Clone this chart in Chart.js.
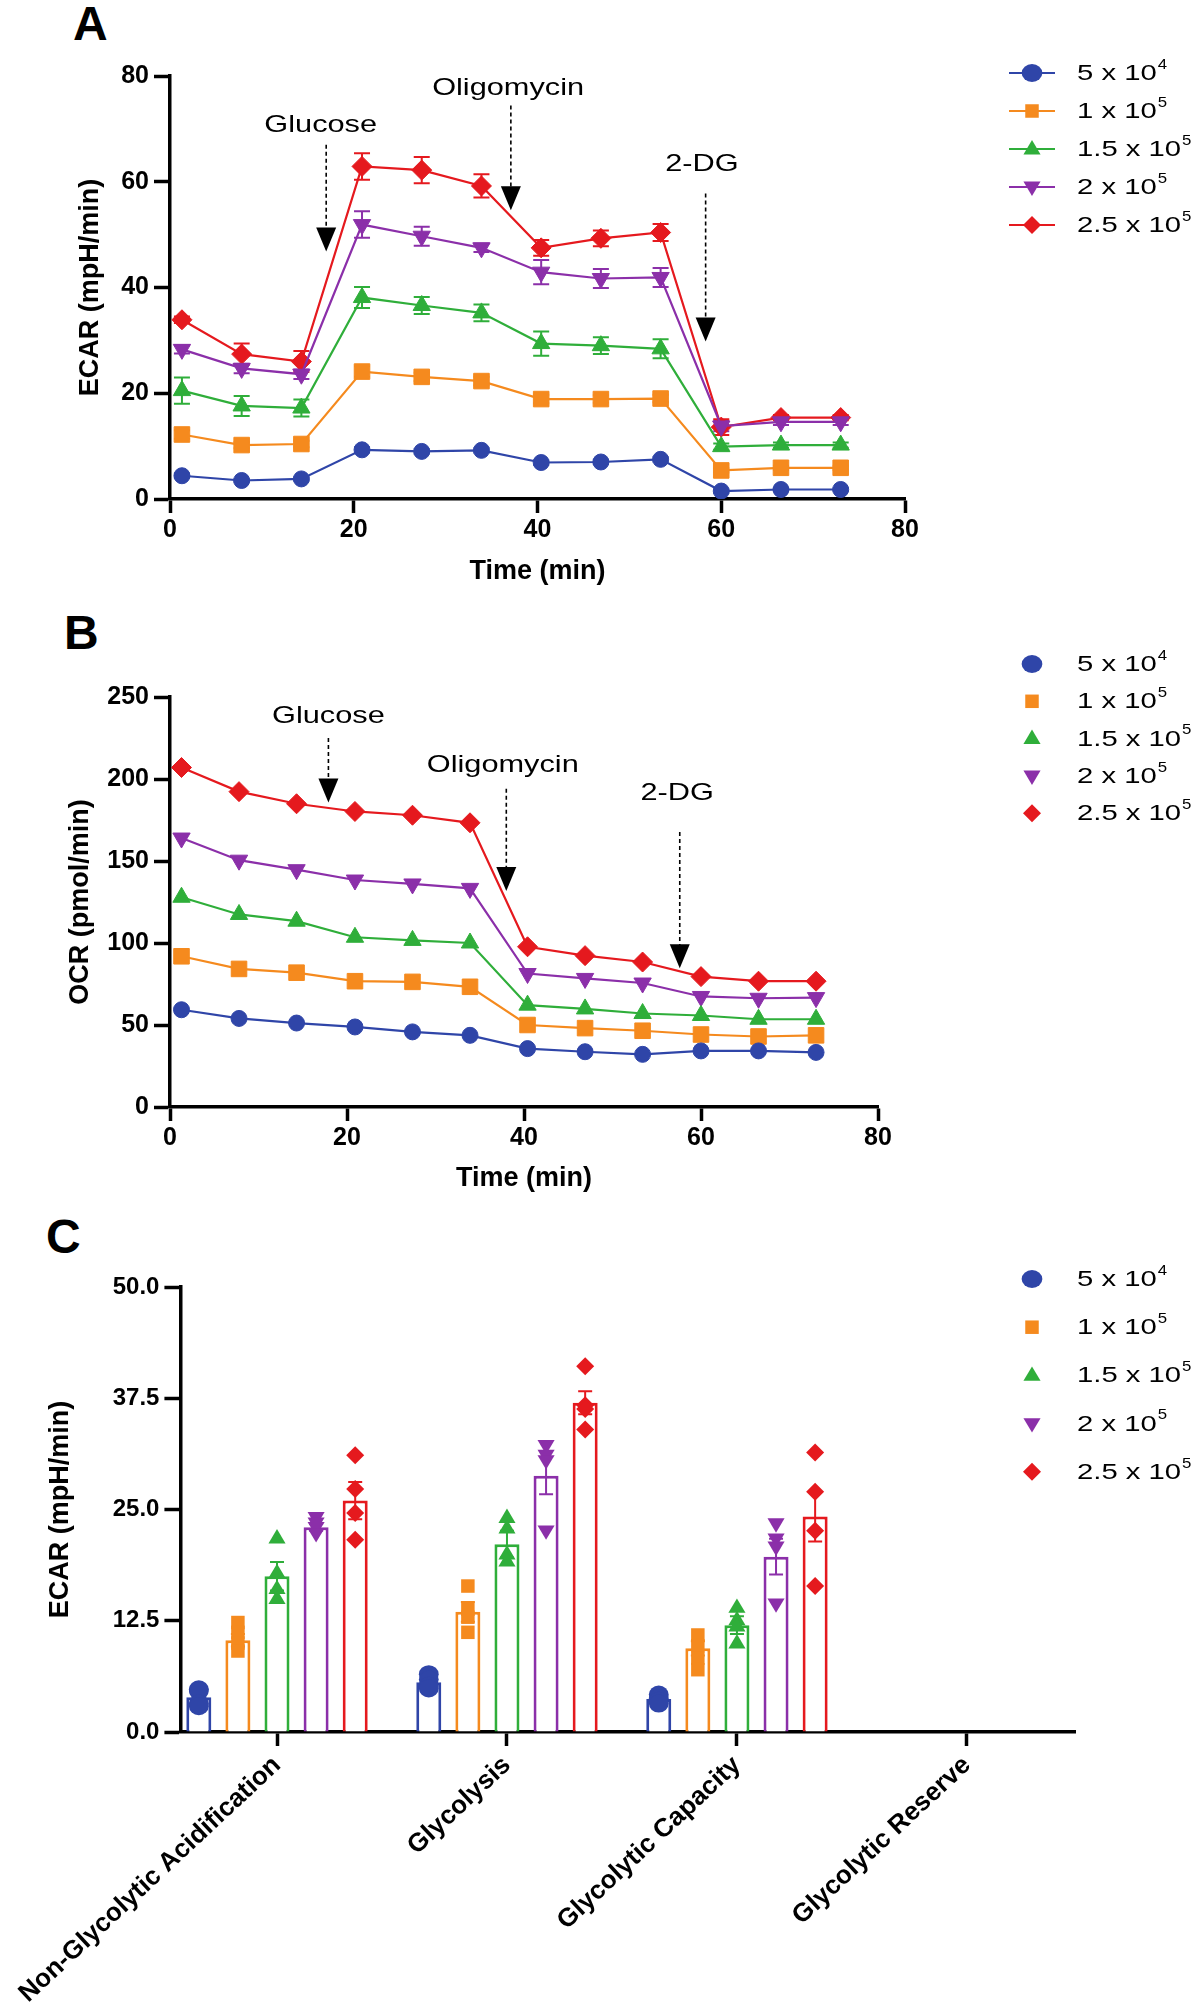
<!DOCTYPE html>
<html>
<head>
<meta charset="utf-8">
<script src="https://cdn.jsdelivr.net/npm/chart.js@4.4.1/dist/chart.umd.min.js"></script>
<style>
  body { margin: 0; background: #fff; width: 1200px; height: 2016px; position: relative; overflow: hidden;
         font-family: "Liberation Sans", Arial, sans-serif; }
  canvas { position: absolute; left: 0; }
  .panel { position: absolute; font-weight: bold; font-size: 48px; line-height: 1; color: #000; }
</style>
</head>
<body>
<div class="panel" style="left:73px;top:0px">A</div>
<div class="panel" style="left:64px;top:609px">B</div>
<div class="panel" style="left:46px;top:1213px">C</div>
<canvas id="ecar" width="1200" height="600" style="top:0px"></canvas>
<canvas id="ocr" width="1200" height="600" style="top:620px"></canvas>
<canvas id="glyco" width="1200" height="796" style="top:1220px"></canvas>
<script>
// ---- data ----
const times = [1.3, 7.8, 14.3, 20.9, 27.4, 33.9, 40.4, 46.9, 53.4, 60.0, 66.5, 73.0];

const seriesNames = ["5 x 10", "1 x 10", "1.5 x 10", "2 x 10", "2.5 x 10"];
const seriesExp = ["4", "5", "5", "5", "5"];

// panel A, ECAR (mpH/min)
const ecar5e4  = [4.4, 3.5, 3.8, 9.3, 9.0, 9.2, 6.9, 7.0, 7.5, 1.5, 1.8, 1.8];
const ecar1e5  = [12.2, 10.2, 10.4, 24.1, 23.1, 22.3, 18.9, 18.9, 19.0, 5.4, 5.9, 5.9];
const ecar15e5 = [20.5, 17.6, 17.2, 38.1, 36.6, 35.2, 29.4, 29.0, 28.4, 9.9, 10.2, 10.2];
const ecar2e5  = [28.3, 24.7, 23.6, 51.9, 49.7, 47.5, 42.9, 41.7, 41.9, 13.8, 14.6, 14.6];
const ecar25e5 = [33.9, 27.4, 26.0, 62.9, 62.2, 59.2, 47.5, 49.3, 50.4, 13.6, 15.4, 15.4];

const ecarSem5e4  = [0.4, 0.3, 0.3, 0.5, 0.4, 0.4, 0.4, 0.4, 0.4, 0.3, 0.3, 0.3];
const ecarSem1e5  = [0.8, 0.6, 0.6, 1.0, 0.8, 0.8, 0.8, 0.7, 0.7, 0.4, 0.4, 0.4];
const ecarSem15e5 = [2.5, 1.9, 1.6, 2.0, 1.6, 1.6, 2.3, 1.6, 1.8, 0.6, 0.5, 0.5];
const ecarSem2e5  = [0.8, 0.9, 0.9, 2.5, 1.8, 0.8, 2.3, 1.8, 1.8, 1.0, 0.6, 0.6];
const ecarSem25e5 = [0.6, 2.0, 2.0, 2.5, 2.5, 2.2, 1.5, 1.5, 1.6, 1.5, 0.5, 0.5];

const ecarArrowLabels = ["Glucose", "Oligomycin", "2-DG"];
const ecarArrowX    = [17.0, 37.1, 58.3];
const ecarArrowFrom = [67.0, 74.4, 57.8];
const ecarArrowTo   = [46.8, 54.6, 29.8];
const ecarLabelX    = [16.4, 36.8, 57.9];
const ecarLabelY    = [70.7, 77.6, 63.2];

// panel B, OCR (pmol/min)
const ocr5e4  = [59.3, 54.0, 51.2, 48.8, 45.8, 43.7, 35.6, 33.7, 32.1, 34.2, 34.2, 33.3];
const ocr1e5  = [91.9, 84.2, 81.9, 76.7, 76.3, 73.3, 50.0, 48.1, 46.5, 44.2, 43.0, 43.7];
const ocr15e5 = [127.9, 117.4, 113.3, 103.5, 101.6, 100.0, 62.1, 59.8, 57.0, 55.8, 53.5, 53.5];
const ocr2e5  = [164.0, 150.5, 144.7, 138.4, 136.0, 133.3, 81.4, 78.4, 75.6, 67.4, 66.3, 66.7];
const ocr25e5 = [207.0, 192.3, 184.9, 180.2, 177.9, 173.3, 97.7, 92.3, 88.4, 79.5, 76.7, 76.7];

const ocrArrowLabels = ["Glucose", "Oligomycin", "2-DG"];
const ocrArrowX    = [17.9, 38.0, 57.6];
const ocrArrowFrom = [225, 194, 167.7];
const ocrArrowTo   = [185.7, 131.7, 84.6];
const ocrLabelX    = [17.9, 37.6, 57.3];
const ocrLabelY    = [238, 208.5, 191];

// panel C, ECAR summary
const categories = ["Non-Glycolytic Acidification", "Glycolysis", "Glycolytic Capacity", "Glycolytic Reserve"];
const mean5e4  = [3.9, 5.6, 3.7, 0];
const mean1e5  = [10.3, 13.5, 9.4, 0];
const mean15e5 = [17.5, 21.1, 12.0, 0];
const mean2e5  = [23.0, 28.8, 19.7, 0];
const mean25e5 = [26.0, 37.0, 24.2, 0];
const sem5e4  = [0.5, 0.4, 0.3, 0];
const sem1e5  = [0.7, 1.1, 0.8, 0];
const sem15e5 = [1.6, 1.5, 1.0, 0];
const sem2e5  = [0.4, 2.1, 2.0, 0];
const sem25e5 = [2.1, 1.3, 2.8, 0];
const reps5e4  = [[4.8, 4.6, 3.2, 2.9], [6.5, 5.9, 5.2, 4.9], [4.2, 3.8, 3.5, 3.2], []];
const reps1e5  = [[12.3, 11.2, 10.0, 9.1], [16.4, 13.8, 12.9, 11.2], [10.9, 9.7, 8.3, 7.0], []];
const reps15e5 = [[21.8, 17.9, 16.1, 15.0], [24.1, 22.9, 20.0, 19.2], [14.0, 12.6, 11.9, 10.0], []];
const reps2e5  = [[24.1, 23.5, 23.0, 22.3], [32.2, 31.1, 30.5, 22.6], [23.4, 21.7, 20.8, 14.4], []];
const reps25e5 = [[31.1, 27.3, 24.6, 21.6], [41.1, 36.7, 36.3, 34.0], [31.4, 27.0, 22.6, 16.4], []];

// ---- styling ----
const colors = ["#2f45a8", "#f58a1e", "#2fae3a", "#8b2fa9", "#e5191e"];
const pointStyles = ["circle", "rect", "triangle", "triangle", "rectRot"];
const pointRots = [0, 0, 0, 180, 0];
const pointRadii = [8, 11, 10, 10, 10];

Chart.defaults.font.family = "'Liberation Sans', Arial, sans-serif";
Chart.defaults.color = "#000";

function boldFont(size) {
  return { family: "'Liberation Sans', Arial, sans-serif", weight: "bold", size: size };
}

function axisLines(tickLen) {
  return {
    grid: { display: true, drawOnChartArea: false, drawTicks: true, tickLength: tickLen,
            tickWidth: 3.5, tickColor: "#000", offset: false },
    border: { display: true, width: 3.5, color: "#000" }
  };
}

function drawMarker(ctx, i, x, y, r, sx) {
  ctx.save();
  ctx.fillStyle = colors[i];
  ctx.beginPath();
  const st = pointStyles[i];
  if (st === "circle") {
    ctx.ellipse(x, y, r * sx, r, 0, 0, Math.PI * 2);
  } else if (st === "rect") {
    const s = r * 0.75;
    ctx.rect(x - s, y - s, 2 * s, 2 * s);
  } else if (st === "triangle") {
    const d = pointRots[i] ? -1 : 1;
    ctx.moveTo(x, y - d * r);
    ctx.lineTo(x + r * 0.95, y + d * r * 0.6);
    ctx.lineTo(x - r * 0.95, y + d * r * 0.6);
  } else {
    ctx.moveTo(x, y - r);
    ctx.lineTo(x + r, y);
    ctx.lineTo(x, y + r);
    ctx.lineTo(x - r, y);
  }
  ctx.closePath();
  ctx.fill();
  ctx.restore();
}

function wideText(ctx, txt, x, y, size, weight, sx, align) {
  ctx.save();
  ctx.font = weight + " " + size + "px 'Liberation Sans', Arial, sans-serif";
  ctx.fillStyle = "#000";
  ctx.textBaseline = "middle";
  ctx.textAlign = align;
  ctx.translate(x, y);
  ctx.scale(sx, 1);
  ctx.fillText(txt, 0, 0);
  const w = ctx.measureText(txt).width * sx;
  ctx.restore();
  return w;
}

function legendPlugin(firstRow, step, withLine) {
  return {
    id: "sideLegend",
    afterDraw(chart) {
      const ctx = chart.ctx;
      seriesNames.forEach((name, i) => {
        const y = firstRow + i * step;
        const mx = 1032;
        if (withLine) {
          ctx.save();
          ctx.strokeStyle = colors[i];
          ctx.lineWidth = 2;
          ctx.beginPath();
          ctx.moveTo(mx - 23, y);
          ctx.lineTo(mx + 23, y);
          ctx.stroke();
          ctx.restore();
        }
        drawMarker(ctx, i, mx, y, 9, 1.15);
        const w = wideText(ctx, name, 1077, y + 1, 22, "normal", 1.33, "left");
        wideText(ctx, seriesExp[i], 1077 + w + 1, y - 8, 14, "normal", 1.2, "left");
      });
    }
  };
}

function arrowPlugin(labels, ax, from, to, lx, ly) {
  return {
    id: "injections",
    afterDraw(chart) {
      const ctx = chart.ctx, xs = chart.scales.x, ys = chart.scales.y;
      labels.forEach((lab, i) => {
        const px = xs.getPixelForValue(ax[i]);
        const top = ys.getPixelForValue(from[i]);
        const tip = ys.getPixelForValue(to[i]);
        const head = 24;
        ctx.save();
        ctx.strokeStyle = "#000";
        ctx.lineWidth = 1.6;
        ctx.setLineDash([4, 3]);
        ctx.beginPath();
        ctx.moveTo(px, top);
        ctx.lineTo(px, tip - head + 2);
        ctx.stroke();
        ctx.setLineDash([]);
        ctx.fillStyle = "#000";
        ctx.beginPath();
        ctx.moveTo(px - 10, tip - head);
        ctx.lineTo(px + 10, tip - head);
        ctx.lineTo(px, tip);
        ctx.closePath();
        ctx.fill();
        ctx.restore();
        wideText(ctx, lab, xs.getPixelForValue(lx[i]), ys.getPixelForValue(ly[i]), 24, "normal", 1.28, "center");
      });
    }
  };
}

function lineErrorBars(sems) {
  return {
    id: "lineErrors",
    beforeDatasetsDraw(chart) {
      const ctx = chart.ctx, ys = chart.scales.y;
      chart.data.datasets.forEach((ds, i) => {
        const meta = chart.getDatasetMeta(i);
        ctx.save();
        ctx.strokeStyle = ds.borderColor;
        ctx.lineWidth = 2;
        meta.data.forEach((pt, j) => {
          const v = ds.data[j].y, s = sems[i][j];
          const yt = ys.getPixelForValue(v + s), yb = ys.getPixelForValue(v - s);
          ctx.beginPath();
          ctx.moveTo(pt.x, yt); ctx.lineTo(pt.x, yb);
          ctx.moveTo(pt.x - 8, yt); ctx.lineTo(pt.x + 8, yt);
          ctx.moveTo(pt.x - 8, yb); ctx.lineTo(pt.x + 8, yb);
          ctx.stroke();
        });
        ctx.restore();
      });
    }
  };
}

function timeDatasets(series) {
  return series.map((vals, i) => ({
    label: seriesNames[i] + seriesExp[i],
    data: times.map((t, j) => ({ x: t, y: vals[j] })),
    borderColor: colors[i],
    backgroundColor: colors[i],
    borderWidth: 2.2,
    tension: 0,
    pointStyle: pointStyles[i],
    pointRotation: pointRots[i],
    pointRadius: pointRadii[i],
    pointBorderWidth: 1,
    pointBorderColor: colors[i],
    pointBackgroundColor: colors[i]
  }));
}

function timeScales(yMax, yStep, yTitle, yWidth, xHeight) {
  return {
    x: Object.assign({
      type: "linear", min: 0, max: 80,
      ticks: { stepSize: 20, font: boldFont(25), color: "#000", padding: 2 },
      title: { display: true, text: "Time (min)", font: boldFont(27), padding: 0 },
      afterFit: s => { s.height = xHeight; }
    }, axisLines(14)),
    y: Object.assign({
      type: "linear", min: 0, max: yMax,
      ticks: { stepSize: yStep, font: boldFont(25), color: "#000", padding: 5 },
      title: { display: true, text: yTitle, font: boldFont(27), padding: 0 },
      afterFit: s => { s.width = yWidth; }
    }, axisLines(16))
  };
}

// ---- panel A ----
new Chart(document.getElementById("ecar"), {
  type: "line",
  data: { datasets: timeDatasets([ecar5e4, ecar1e5, ecar15e5, ecar2e5, ecar25e5]) },
  options: {
    responsive: false, animation: false,
    layout: { padding: { left: 74, top: 76, right: 295, bottom: 12 } },
    plugins: { legend: { display: false }, tooltip: { enabled: false } },
    scales: timeScales(80, 20, "ECAR (mpH/min)", 96, 89)
  },
  plugins: [
    lineErrorBars([ecarSem5e4, ecarSem1e5, ecarSem15e5, ecarSem2e5, ecarSem25e5]),
    arrowPlugin(ecarArrowLabels, ecarArrowX, ecarArrowFrom, ecarArrowTo, ecarLabelX, ecarLabelY),
    legendPlugin(73, 38, true)
  ]
});

// ---- panel B ----
new Chart(document.getElementById("ocr"), {
  type: "line",
  data: { datasets: timeDatasets([ocr5e4, ocr1e5, ocr15e5, ocr2e5, ocr25e5]) },
  options: {
    responsive: false, animation: false,
    layout: { padding: { left: 64, top: 77, right: 322, bottom: 25 } },
    plugins: { legend: { display: false }, tooltip: { enabled: false } },
    scales: timeScales(250, 50, "OCR (pmol/min)", 106, 88)
  },
  plugins: [
    arrowPlugin(ocrArrowLabels, ocrArrowX, ocrArrowFrom, ocrArrowTo, ocrLabelX, ocrLabelY),
    legendPlugin(44, 37.3, false)
  ]
});

// ---- panel C ----
const means = [mean5e4, mean1e5, mean15e5, mean2e5, mean25e5];
const sems = [sem5e4, sem1e5, sem15e5, sem2e5, sem25e5];
const reps = [reps5e4, reps1e5, reps15e5, reps2e5, reps25e5];

const barSets = means.map((m, k) => ({
  label: seriesNames[k] + seriesExp[k],
  data: m.map((v, i) => ({ x: i, y: v })),
  borderColor: colors[k],
  backgroundColor: "#ffffff",
  borderWidth: 3,
  categoryPercentage: 0.85,
  barPercentage: 0.64
}));

// error bars and replicate points, placed on each bar through the y scale
const barExtras = {
  id: "barExtras",
  afterDatasetsDraw(chart) {
    const ctx = chart.ctx, ys = chart.scales.y;
    chart.data.datasets.forEach((ds, k) => {
      const meta = chart.getDatasetMeta(k);
      ctx.save();
      ctx.strokeStyle = colors[k];
      ctx.lineWidth = 2;
      meta.data.forEach((bar, i) => {
        const s = sems[k][i];
        if (!s) return;
        const yt = ys.getPixelForValue(means[k][i] + s), yb = ys.getPixelForValue(means[k][i] - s);
        ctx.beginPath();
        ctx.moveTo(bar.x, yt); ctx.lineTo(bar.x, yb);
        ctx.moveTo(bar.x - 7, yt); ctx.lineTo(bar.x + 7, yt);
        ctx.moveTo(bar.x - 7, yb); ctx.lineTo(bar.x + 7, yb);
        ctx.stroke();
      });
      ctx.restore();
      meta.data.forEach((bar, i) => {
        reps[k][i].forEach(v => drawMarker(ctx, k, bar.x, ys.getPixelForValue(v), 9, 1.1));
      });
    });
  }
};

new Chart(document.getElementById("glyco"), {
  type: "bar",
  data: { datasets: barSets },
  options: {
    responsive: false, animation: false,
    layout: { padding: { left: 44, top: 67, right: 125, bottom: 0 } },
    plugins: { legend: { display: false }, tooltip: { enabled: false } },
    scales: {
      x: Object.assign({
        type: "linear", offset: false, min: -0.42, max: 3.47,
        afterBuildTicks: s => { s.ticks = categories.map((c, i) => ({ value: i })); },
        ticks: { font: boldFont(26), color: "#000", minRotation: 43, maxRotation: 43, autoSkip: false, padding: 4,
                 callback: v => categories[v] },
        afterFit: s => { s.height = 284; }
      }, axisLines(14)),
      y: Object.assign({
        type: "linear", min: 0, max: 50,
        ticks: { stepSize: 12.5, font: boldFont(24), color: "#000", padding: 5,
                 callback: v => v.toFixed(1) },
        title: { display: true, text: "ECAR (mpH/min)", font: boldFont(27), padding: 0 },
        afterFit: s => { s.width = 136; }
      }, axisLines(16))
    }
  },
  plugins: [barExtras, legendPlugin(59, 48.2, false)]
});
</script>
</body>
</html>
